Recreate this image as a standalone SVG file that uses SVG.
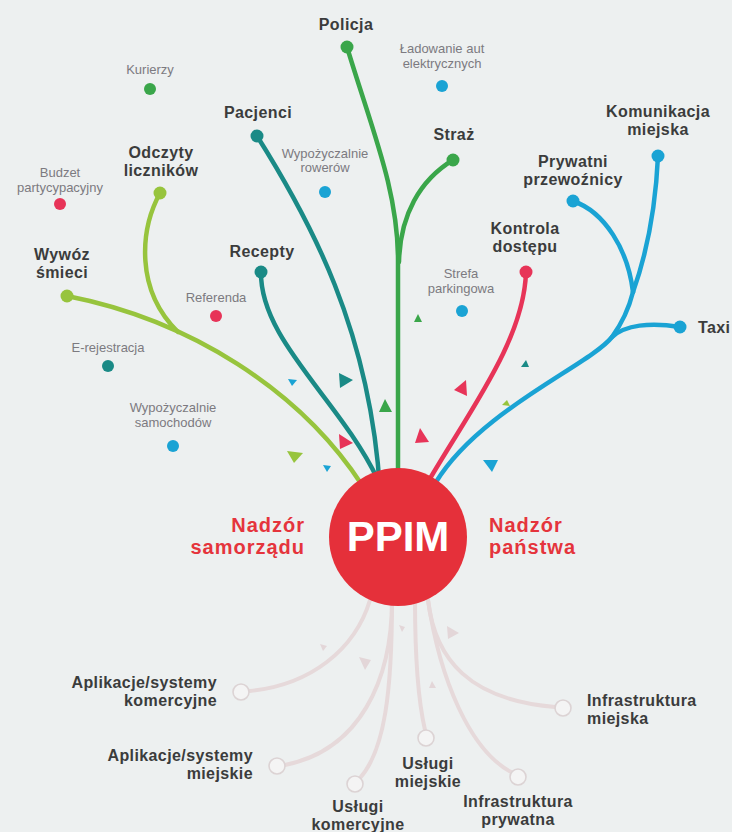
<svg xmlns="http://www.w3.org/2000/svg" width="732" height="832" viewBox="0 0 732 832">
<defs>
<style>
.bg{fill:#edf0f0}
.lbl{font-family:"Liberation Sans",Arial,sans-serif;font-weight:bold;font-size:16px;letter-spacing:0.4px;fill:#3b3c3c}
.sm{font-family:"Liberation Sans",Arial,sans-serif;font-size:13px;fill:#7c7a80}
.red{font-family:"Liberation Sans",Arial,sans-serif;font-weight:bold;font-size:20px;letter-spacing:1px;fill:#e5343c}
.ppim{font-family:"Liberation Sans",Arial,sans-serif;font-weight:bold;font-size:42px;fill:#ffffff}
.c{fill:none;stroke-width:4.5;stroke-linecap:round;stroke-linejoin:round}
.pale{fill:none;stroke:#e6d9da;stroke-width:4;stroke-linecap:round}
.hollow{fill:#f4f4f4;stroke:#dcd3d4;stroke-width:1.6}
.g{stroke:#3aa64a}.gf{fill:#3aa64a}
.t{stroke:#1a8a86}.tf{fill:#1a8a86}
.y{stroke:#97c43d}.yf{fill:#97c43d}
.p{stroke:#e73458}.pf{fill:#e73458}
.b{stroke:#1aa3d4}.bf{fill:#1aa3d4}
.pt{fill:#e3d6d8}
</style>
</defs>
<rect class="bg" x="0" y="0" width="732" height="832"/>

<g id="connectors">
<path class="c g" d="M347,47 C372,130 398,190 398,260 L398,490"/>
<path class="c g" d="M453,160 C420,180 400,215 399,262"/>
<path class="c t" d="M257,136 C310,220 370,330 380,490"/>
<path class="c t" d="M261,272 C260,340 340,400 378,480"/>
<path class="c y" d="M67,296 C190,320 300,390 362,485"/>
<path class="c y" d="M160,193 C140,230 135,290 178,332"/>
<path class="c p" d="M526,272 C524,340 470,410 428,482"/>
<path class="c b" d="M658,156 C656,200 648,250 633,292"/>
<path class="c b" d="M573,201 C605,212 628,250 633,292"/>
<path class="c b" d="M633,292 C628,312 620,326 612,337 C590,365 480,410 436,482"/>
<path class="c b" d="M680,327 C650,322 625,325 612,337"/>
<path class="pale" d="M370,600 C355,650 310,685 250,691"/>
<path class="pale" d="M392,600 C392,680 360,750 285,765"/>
<path class="pale" d="M392,600 C392,690 385,750 360,778"/>
<path class="pale" d="M415,600 C415,660 418,700 425,730"/>
<path class="pale" d="M428,600 C435,660 470,700 555,707"/>
<path class="pale" d="M428,600 C440,680 470,750 511,772"/>
</g>

<g id="decor">
<polygon class="tf" points="339,373 353,380 340,388"/>
<polygon class="bf" points="288,379 297,380 292,386"/>
<polygon class="gf" points="379,412 385,399 392,412"/>
<polygon class="pf" points="339,434 353,443 340,449"/>
<polygon class="yf" points="287,451 303,453 294,463"/>
<polygon class="bf" points="323,465 331,466 327,472"/>
<polygon class="gf" points="414,322 418,314 422,322"/>
<polygon class="tf" points="521,367 526,360 529,367"/>
<polygon class="pf" points="466,380 454,390 467,396"/>
<polygon class="yf" points="502,405 507,400 510,406"/>
<polygon class="pf" points="420,428 415,443 429,442"/>
<polygon class="bf" points="483,460 498,460 492,472"/>
<polygon class="pt" points="320,644 327,646 323,651"/>
<polygon class="pt" points="359,657 371,660 365,670"/>
<polygon class="pt" points="399,625 405,627 402,632"/>
<polygon class="pt" points="447,626 459,633 448,639"/>
<polygon class="pt" points="429,688 432,681 436,688"/>
</g>

<g id="ppim">
<circle cx="398" cy="537" r="69" fill="#e5303a"/>
<text class="ppim" x="398" y="551" text-anchor="middle">PPIM</text>
</g>
<g id="nadzor-samorzadu">
<text class="red" x="305" y="532" text-anchor="end">Nadzór</text>
<text class="red" x="305" y="554" text-anchor="end">samorządu</text>
</g>
<g id="nadzor-panstwa">
<text class="red" x="489" y="532">Nadzór</text>
<text class="red" x="489" y="554">państwa</text>
</g>

<g id="policja"><circle class="gf" cx="347" cy="47" r="6.5"/><text class="lbl" x="346" y="30" text-anchor="middle">Policja</text></g>
<g id="kurierzy"><circle class="gf" cx="150" cy="89" r="6"/><text class="sm" x="150" y="74" text-anchor="middle">Kurierzy</text></g>
<g id="pacjenci"><circle class="tf" cx="257" cy="136" r="6.5"/><text class="lbl" x="258" y="118" text-anchor="middle">Pacjenci</text></g>
<g id="odczyty"><circle class="yf" cx="160" cy="193" r="6.5"/><text class="lbl" x="161" y="158" text-anchor="middle">Odczyty</text><text class="lbl" x="161" y="176" text-anchor="middle">liczników</text></g>
<g id="budzet"><circle class="pf" cx="60" cy="204" r="6"/><text class="sm" x="60" y="177" text-anchor="middle">Budzet</text><text class="sm" x="60" y="192" text-anchor="middle">partycypacyjny</text></g>
<g id="rowery"><circle class="bf" cx="325" cy="192" r="6"/><text class="sm" x="325" y="158" text-anchor="middle">Wypożyczalnie</text><text class="sm" x="325" y="172" text-anchor="middle">rowerów</text></g>
<g id="recepty"><circle class="tf" cx="261" cy="272" r="6.5"/><text class="lbl" x="262" y="257" text-anchor="middle">Recepty</text></g>
<g id="wywoz"><circle class="yf" cx="67" cy="296" r="6.5"/><text class="lbl" x="62" y="260" text-anchor="middle">Wywóz</text><text class="lbl" x="62" y="278" text-anchor="middle">śmieci</text></g>
<g id="referenda"><circle class="pf" cx="216" cy="316" r="6"/><text class="sm" x="216" y="302" text-anchor="middle">Referenda</text></g>
<g id="e-rejestracja"><circle class="tf" cx="108" cy="366" r="6"/><text class="sm" x="108" y="352" text-anchor="middle">E-rejestracja</text></g>
<g id="samochody"><circle class="bf" cx="173" cy="446" r="6"/><text class="sm" x="173" y="412" text-anchor="middle">Wypożyczalnie</text><text class="sm" x="173" y="427" text-anchor="middle">samochodów</text></g>
<g id="ladowanie"><circle class="bf" cx="442" cy="86" r="6"/><text class="sm" x="442" y="53" text-anchor="middle">Ładowanie aut</text><text class="sm" x="442" y="68" text-anchor="middle">elektrycznych</text></g>
<g id="straz"><circle class="gf" cx="453" cy="160" r="6.5"/><text class="lbl" x="454" y="140" text-anchor="middle">Straż</text></g>
<g id="komunikacja"><circle class="bf" cx="658" cy="156" r="6.5"/><text class="lbl" x="658" y="117" text-anchor="middle">Komunikacja</text><text class="lbl" x="658" y="135" text-anchor="middle">miejska</text></g>
<g id="prywatni"><circle class="bf" cx="573" cy="201" r="6.5"/><text class="lbl" x="573" y="167" text-anchor="middle">Prywatni</text><text class="lbl" x="573" y="185" text-anchor="middle">przewoźnicy</text></g>
<g id="kontrola"><circle class="pf" cx="526" cy="272" r="6.5"/><text class="lbl" x="525" y="234" text-anchor="middle">Kontrola</text><text class="lbl" x="525" y="252" text-anchor="middle">dostępu</text></g>
<g id="strefa"><circle class="bf" cx="462" cy="311" r="6"/><text class="sm" x="461" y="278" text-anchor="middle">Strefa</text><text class="sm" x="461" y="293" text-anchor="middle">parkingowa</text></g>
<g id="taxi"><circle class="bf" cx="680" cy="327" r="6.5"/><text class="lbl" x="698" y="333">Taxi</text></g>

<g id="apl-komercyjne"><circle class="hollow" cx="241" cy="692" r="8"/><text class="lbl" x="217" y="688" text-anchor="end">Aplikacje/systemy</text><text class="lbl" x="217" y="706" text-anchor="end">komercyjne</text></g>
<g id="apl-miejskie"><circle class="hollow" cx="277" cy="766" r="8"/><text class="lbl" x="253" y="761" text-anchor="end">Aplikacje/systemy</text><text class="lbl" x="253" y="779" text-anchor="end">miejskie</text></g>
<g id="uslugi-komercyjne"><circle class="hollow" cx="355" cy="784" r="8"/><text class="lbl" x="358" y="812" text-anchor="middle">Usługi</text><text class="lbl" x="358" y="830" text-anchor="middle">komercyjne</text></g>
<g id="uslugi-miejskie"><circle class="hollow" cx="426" cy="738" r="8"/><text class="lbl" x="428" y="769" text-anchor="middle">Usługi</text><text class="lbl" x="428" y="787" text-anchor="middle">miejskie</text></g>
<g id="infra-prywatna"><circle class="hollow" cx="518" cy="777" r="8"/><text class="lbl" x="518" y="807" text-anchor="middle">Infrastruktura</text><text class="lbl" x="518" y="825" text-anchor="middle">prywatna</text></g>
<g id="infra-miejska"><circle class="hollow" cx="563" cy="708" r="8"/><text class="lbl" x="587" y="706">Infrastruktura</text><text class="lbl" x="587" y="724">miejska</text></g>
</svg>
